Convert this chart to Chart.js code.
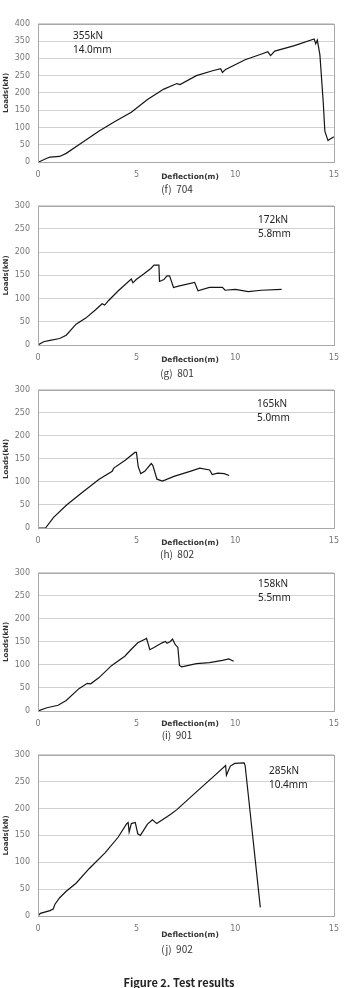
<!DOCTYPE html>
<html>
<head>
<meta charset="utf-8">
<script src="https://cdn.jsdelivr.net/npm/chart.js@4"></script>
<style>
  html, body { margin: 0; padding: 0; background: #fff; }
  #page { position: relative; width: 347px; height: 988px; overflow: hidden; font-family: "DejaVu Sans", sans-serif; }
  canvas { position: absolute; left: 0; }
  .txt { position: absolute; white-space: pre; line-height: 14px; height: 14px; }
  .note { font-family: "Noto Sans", sans-serif; font-size: 10px; color: #222; }
  .xt { font-size: 7.5px; font-weight: bold; color: #333; transform: translateX(-50%); }
  .cap { font-family: "Noto Sans CJK KR", sans-serif; font-size: 10px; color: #333; transform: translateX(-50%); }
  .fig { font-family: "Noto Sans CJK KR", sans-serif; font-size: 11px; font-weight: bold; color: #222; transform: translateX(-50%); }
</style>
</head>
<body>
<div id="page"></div>
<script>
// (f) 704
const deflF = [0, 0.12, 0.45, 0.61, 1.1, 1.43, 2.26, 3.08, 3.9, 4.73, 5.55, 6.38, 7.04, 7.2, 8.03, 8.85, 9.26, 9.35, 9.51, 10.5, 11.3, 11.65, 11.79, 12.0, 13.0, 14.0, 14.04, 14.08, 14.16, 14.29, 14.46, 14.54, 14.7, 14.79, 15.0];
const loadF = [0, 2, 11, 14, 16, 25, 57, 89, 117, 144, 181, 211, 227, 224, 250, 264, 270, 259, 268, 296, 312, 319, 308, 321, 337, 356, 356, 342, 353, 310, 172, 89, 62, 66, 73];

// (g) 801
const deflG = [0, 0.28, 0.61, 1.1, 1.43, 1.93, 2.42, 2.92, 3.25, 3.38, 3.58, 4.07, 4.73, 4.81, 4.98, 5.39, 5.72, 5.88, 6.13, 6.16, 6.38, 6.54, 6.67, 6.87, 7.12, 7.94, 8.11, 8.69, 9.35, 9.48, 10.0, 10.66, 11.32, 12.35];
const loadG = [0, 7, 10, 14, 21, 45, 58, 76, 89, 86, 96, 117, 142, 134, 141, 154, 165, 172, 172, 137, 141, 149, 149, 124, 127, 135, 117, 124, 124, 118, 120, 115, 118, 120];

// (h) 802
const deflH = [0, 0.38, 0.79, 1.45, 2.27, 3.1, 3.76, 3.84, 4.42, 4.91, 4.99, 5.08, 5.21, 5.41, 5.74, 5.82, 6.03, 6.31, 6.89, 7.71, 8.2, 8.7, 8.83, 9.11, 9.44, 9.69];
const loadH = [0, 0, 23, 50, 78, 106, 123, 130, 147, 164, 164, 133, 118, 123, 140, 136, 106, 102, 112, 123, 130, 126, 116, 119, 118, 114];

// (i) 901
const deflI = [0, 0.45, 1.02, 1.43, 2.09, 2.5, 2.67, 3.08, 3.74, 4.4, 4.73, 5.06, 5.47, 5.5, 5.67, 5.88, 6.29, 6.46, 6.54, 6.71, 6.82, 6.96, 7.09, 7.17, 7.29, 8.03, 8.69, 9.35, 9.67, 9.92];
const loadI = [0, 7, 12.5, 23, 49, 60, 59, 72, 99, 119, 134, 148, 157, 158, 133, 138, 148, 151, 147, 151, 156, 144, 138, 99, 96, 103, 105, 110, 113, 108];

// (j) 902
const deflJ = [0, 0.12, 0.61, 0.77, 0.86, 1.1, 1.43, 1.93, 2.59, 3.41, 4.07, 4.48, 4.57, 4.62, 4.73, 4.93, 5.06, 5.19, 5.55, 5.8, 6.02, 6.71, 7.04, 8.03, 8.85, 9.51, 9.55, 9.75, 9.97, 10.45, 10.5, 11.27];
const loadJ = [0, 5, 10, 13, 22, 34, 46, 61, 88, 118, 147, 171, 174, 156, 172, 174, 153, 150, 171, 179, 172, 189, 198, 231, 258, 280, 262, 279, 284, 285, 280, 16];

const xTicks = [0, 5, 10, 15];
const yMaxes = [400, 300, 300, 300, 300];

const panels = [
  { x: deflF, y: loadF, ymax: yMaxes[0], top: 17.3, bottom: 162.3, peak: '355kN', disp: '14.0mm', noteX: 73, noteY: 35, xtY: 176.5, capY: 189.3, cap: '(f)  704' },
  { x: deflG, y: loadG, ymax: yMaxes[1], top: 199.3, bottom: 345, peak: '172kN', disp: '5.8mm', noteX: 258, noteY: 219.3, xtY: 360, capY: 372.7, cap: '(g)  801' },
  { x: deflH, y: loadH, ymax: yMaxes[2], top: 383, bottom: 527.7, peak: '165kN', disp: '5.0mm', noteX: 257, noteY: 402.7, xtY: 542.7, capY: 554, cap: '(h)  802' },
  { x: deflI, y: loadI, ymax: yMaxes[3], top: 565.7, bottom: 711, peak: '158kN', disp: '5.5mm', noteX: 258, noteY: 583.3, xtY: 724, capY: 735, cap: '(i)  901' },
  { x: deflJ, y: loadJ, ymax: yMaxes[4], top: 747.7, bottom: 915.7, peak: '285kN', disp: '10.4mm', noteX: 269, noteY: 770, xtY: 935, capY: 949, cap: '(j)  902' }
];

const page = document.getElementById('page');
const PAD_TOP = 6, X_H = 28, Y_W = 38;

// gray box round the plot area
const frame = {
  id: 'frame',
  afterDraw(chart) {
    const a = chart.chartArea, c = chart.ctx;
    c.save();
    c.strokeStyle = '#a8a8a8';
    c.lineWidth = 1;
    c.strokeRect(Math.round(a.left) + 0.5, Math.round(a.top) + 0.5, Math.round(a.right - a.left), Math.round(a.bottom - a.top));
    c.restore();
  }
};

function addText(cls, text, left, cy) {
  const d = document.createElement('div');
  d.className = 'txt ' + cls;
  d.textContent = text;
  d.style.left = left + 'px';
  d.style.top = (cy - 7) + 'px';
  page.appendChild(d);
}

panels.forEach(p => {
  const cv = document.createElement('canvas');
  const h = Math.round(PAD_TOP + (p.bottom - p.top) + X_H);
  cv.width = 347;
  cv.height = h;
  cv.style.top = Math.round(p.top - PAD_TOP) + 'px';
  page.appendChild(cv);

  new Chart(cv.getContext('2d'), {
    type: 'line',
    data: {
      datasets: [{
        data: p.x.map((v, i) => ({ x: v, y: p.y[i] })),
        borderColor: '#151515',
        borderWidth: 1.2,
        pointRadius: 0,
        tension: 0,
        fill: false
      }]
    },
    options: {
      responsive: false,
      animation: false,
      events: [],
      layout: { padding: { top: PAD_TOP, right: 6, left: 0, bottom: 0 } },
      plugins: { legend: { display: false }, tooltip: { enabled: false } },
      scales: {
        x: {
          type: 'linear', min: 0, max: 15,
          afterBuildTicks: s => { s.ticks = xTicks.map(v => ({ value: v })); },
          afterFit: s => { s.height = X_H; },
          grid: { display: false, drawTicks: false },
          border: { display: false },
          ticks: { padding: 8, color: '#777', font: { family: 'DejaVu Sans', size: 8 }, autoSkip: false, maxRotation: 0 }
        },
        y: {
          min: 0, max: p.ymax,
          afterFit: s => { s.width = Y_W; },
          grid: { color: '#d2d2d2', drawTicks: false },
          border: { display: false },
          ticks: { stepSize: 50, padding: 8, color: '#777', font: { family: 'DejaVu Sans', size: 8 }, autoSkip: false },
          title: { display: true, text: 'Loads(kN)', color: '#333', padding: { top: 2, bottom: 0 }, font: { family: 'DejaVu Sans', size: 7, weight: 'bold' } }
        }
      }
    },
    plugins: [frame]
  });

  addText('note', p.peak, p.noteX, p.noteY);
  addText('note', p.disp, p.noteX, p.noteY + 14);
  addText('xt', 'Deflection(m)', 190, p.xtY);
  addText('cap', p.cap, 177, p.capY);
});

addText('fig', 'Figure 2. Test results', 179, 982);
</script>
</body>
</html>
